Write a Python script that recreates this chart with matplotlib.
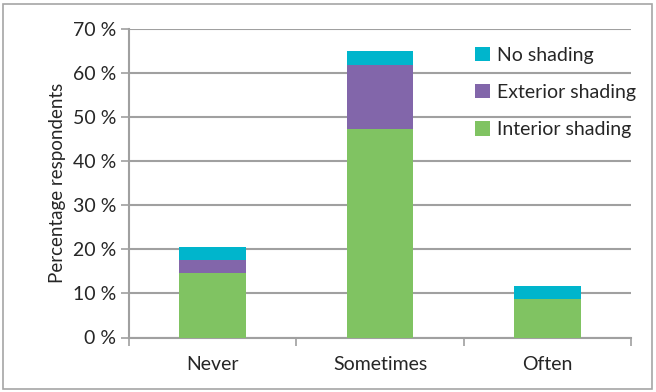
import numpy as np
import matplotlib.pyplot as plt
from matplotlib.patches import Rectangle

plt.rcParams['font.family'] = ['Lato', 'DejaVu Sans']

categories = ['Never', 'Sometimes', 'Often']
interior = [14.7, 47.3, 8.8]
exterior = [2.9, 14.5, 0.0]
no_shading = [3.0, 3.1, 2.9]

c_interior = '#80c362'
c_exterior = '#8266aa'
c_none = '#00b5cc'
grid_color = '#a0a0a0'
text_color = '#262626'

fig = plt.figure(figsize=(6.56, 3.92), dpi=100)
ax = fig.add_axes([129 / 656, 1 - 337.5 / 392, 502 / 656, 308.5 / 392])

# outer chart frame
fig.patches.append(Rectangle((3 / 656, 3 / 392), 649 / 656, 385 / 392,
                             transform=fig.transFigure, fill=False,
                             edgecolor='#a6a6a6', linewidth=1.2))

x = np.arange(len(categories))
width = 0.4
bottom2 = np.array(interior) + np.array(exterior)
b1 = ax.bar(x, interior, width, color=c_interior, zorder=3, label='Interior shading')
b2 = ax.bar(x, exterior, width, bottom=interior, color=c_exterior, zorder=3,
            label='Exterior shading')
b3 = ax.bar(x, no_shading, width, bottom=bottom2, color=c_none, zorder=3,
            label='No shading')

ax.set_xlim(-0.5, 2.5)
ax.set_ylim(0, 70)
ax.set_yticks(np.arange(0, 71, 10))
ax.set_yticklabels(['%d %%' % v for v in range(0, 71, 10)], fontsize=14, color=text_color)
ax.yaxis.grid(True, color=grid_color, linewidth=1.5, zorder=0)
ax.set_axisbelow(True)

ax.set_xticks(x)
ax.set_xticklabels(categories, fontsize=14, color=text_color)
ax.tick_params(axis='x', length=0, pad=13)
ax.set_xticks([-0.5, 0.5, 1.5, 2.5], minor=True)
ax.tick_params(axis='x', which='minor', length=6, width=1.2, color=grid_color, direction='out')
ax.tick_params(axis='y', length=6, width=1.2, color=grid_color, direction='out', pad=3)

for side in ['top', 'right']:
    ax.spines[side].set_visible(False)
for side in ['left', 'bottom']:
    ax.spines[side].set_color(grid_color)
    ax.spines[side].set_linewidth(1.5)

ax.set_ylabel('Percentage respondents', fontsize=13.5, color=text_color, labelpad=5)

ax.legend([b3, b2, b1], ['No shading', 'Exterior shading', 'Interior shading'],
          loc='upper left', bbox_to_anchor=(0.655, 1.0), frameon=False,
          fontsize=14, handlelength=0.75, handleheight=0.75, handletextpad=0.35,
          labelspacing=1.05, labelcolor=text_color)

fig.savefig('out.png', dpi=100)
